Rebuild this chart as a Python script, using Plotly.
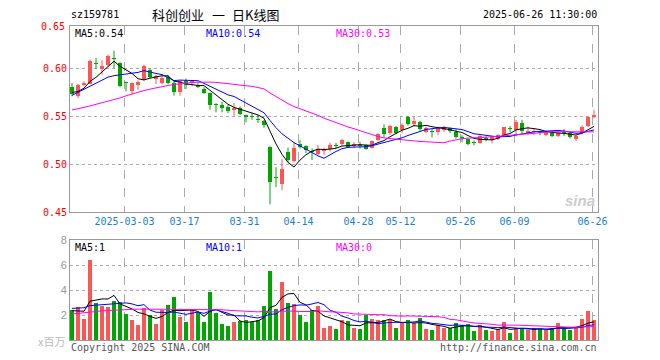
import numpy as np
import pandas as pd
import plotly.graph_objects as go

# ---------------- data ----------------
dates = (
    ["2025-02-%02d" % d for d in [18, 19, 20, 21, 24, 25, 26, 27, 28]]
    + ["2025-03-%02d" % d for d in [3, 4, 5, 6, 7, 10, 11, 12, 13, 14, 17, 18, 19, 20, 21, 24, 25, 26, 27, 28, 31]]
    + ["2025-04-%02d" % d for d in [1, 2, 3, 7, 8, 9, 10, 11, 14, 15, 16, 17, 18, 21, 22, 23, 24, 25, 28, 29, 30]]
    + ["2025-05-%02d" % d for d in [6, 7, 8, 9, 12, 13, 14, 15, 16, 19, 20, 21, 22, 23, 26, 27, 28, 29, 30]]
    + ["2025-06-%02d" % d for d in [3, 4, 5, 6, 9, 10, 11, 12, 13, 16, 17, 18, 19, 20, 23, 24, 25, 26]]
)

opens = [0.5802, 0.5705, 0.5822, 0.5838, 0.6052, 0.5990, 0.6035, 0.6100, 0.6052, 0.5854,
         0.5757, 0.5826, 0.5878, 0.5983, 0.5885, 0.5844, 0.5906, 0.5844, 0.5747, 0.5861,
         0.5840, 0.5826, 0.5785, 0.5736, 0.5625, 0.5616, 0.5589, 0.5558, 0.5582, 0.5503,
         0.5493, 0.5470, 0.5452, 0.5180, 0.4866, 0.4795, 0.5120, 0.5034, 0.5210, 0.5185,
         0.5132, 0.5104, 0.5139, 0.5153, 0.5190, 0.5210, 0.5228, 0.5188, 0.5200, 0.5195,
         0.5170, 0.5255, 0.5380, 0.5322, 0.5384, 0.5350, 0.5486, 0.5417, 0.5440, 0.5338,
         0.5339, 0.5337, 0.5350, 0.5370, 0.5332, 0.5282, 0.5256, 0.5222, 0.5224, 0.5270,
         0.5255, 0.5264, 0.5302, 0.5373, 0.5355, 0.5425, 0.5320, 0.5334, 0.5338, 0.5302,
         0.5337, 0.5292, 0.5330, 0.5326, 0.5257, 0.5319, 0.5396, 0.5493]
highs = [0.5844, 0.5833, 0.5861, 0.6087, 0.6104, 0.6080, 0.6140, 0.6180, 0.6060, 0.5858,
         0.5850, 0.5872, 0.6035, 0.6000, 0.5930, 0.5920, 0.5930, 0.5860, 0.5870, 0.5890,
         0.5875, 0.5850, 0.5800, 0.5745, 0.5634, 0.5650, 0.5616, 0.5634, 0.5600, 0.5514,
         0.5530, 0.5510, 0.5460, 0.5185, 0.4966, 0.5051, 0.5171, 0.5230, 0.5247, 0.5195,
         0.5163, 0.5198, 0.5170, 0.5222, 0.5222, 0.5260, 0.5235, 0.5230, 0.5230, 0.5205,
         0.5244, 0.5320, 0.5413, 0.5410, 0.5395, 0.5424, 0.5500, 0.5493, 0.5450, 0.5390,
         0.5363, 0.5390, 0.5396, 0.5380, 0.5366, 0.5300, 0.5265, 0.5245, 0.5300, 0.5290,
         0.5295, 0.5310, 0.5385, 0.5395, 0.5460, 0.5460, 0.5389, 0.5370, 0.5350, 0.5345,
         0.5345, 0.5335, 0.5365, 0.5330, 0.5300, 0.5400, 0.5490, 0.5563]
lows = [0.5705, 0.5688, 0.5809, 0.5833, 0.5990, 0.5930, 0.6010, 0.6000, 0.5800, 0.5757,
        0.5722, 0.5774, 0.5872, 0.5890, 0.5833, 0.5830, 0.5830, 0.5712, 0.5712, 0.5780,
        0.5810, 0.5790, 0.5730, 0.5565, 0.5538, 0.5538, 0.5530, 0.5503, 0.5510, 0.5435,
        0.5460, 0.5428, 0.5377, 0.4580, 0.4760, 0.4726, 0.5017, 0.5017, 0.5161, 0.5115,
        0.5042, 0.5094, 0.5094, 0.5130, 0.5165, 0.5190, 0.5165, 0.5165, 0.5160, 0.5150,
        0.5160, 0.5240, 0.5278, 0.5300, 0.5310, 0.5322, 0.5400, 0.5390, 0.5340, 0.5320,
        0.5278, 0.5300, 0.5333, 0.5320, 0.5265, 0.5228, 0.5195, 0.5195, 0.5210, 0.5235,
        0.5215, 0.5250, 0.5295, 0.5330, 0.5290, 0.5320, 0.5302, 0.5300, 0.5300, 0.5290,
        0.5280, 0.5280, 0.5290, 0.5265, 0.5240, 0.5310, 0.5385, 0.5476]
closes = [0.5729, 0.5826, 0.5840, 0.6072, 0.6048, 0.6017, 0.6122, 0.6094, 0.5809, 0.5847,
          0.5844, 0.5851, 0.6024, 0.5906, 0.5920, 0.5896, 0.5844, 0.5747, 0.5861, 0.5820,
          0.5861, 0.5799, 0.5742, 0.5613, 0.5619, 0.5582, 0.5555, 0.5582, 0.5520, 0.5497,
          0.5490, 0.5466, 0.5411, 0.4815, 0.4862, 0.4949, 0.5045, 0.5171, 0.5175, 0.5145,
          0.5128, 0.5153, 0.5153, 0.5198, 0.5187, 0.5245, 0.5172, 0.5210, 0.5195, 0.5160,
          0.5235, 0.5315, 0.5313, 0.5398, 0.5322, 0.5408, 0.5418, 0.5453, 0.5363, 0.5373,
          0.5335, 0.5372, 0.5370, 0.5340, 0.5284, 0.5278, 0.5211, 0.5219, 0.5293, 0.5255,
          0.5277, 0.5305, 0.5381, 0.5369, 0.5440, 0.5345, 0.5347, 0.5340, 0.5320, 0.5337,
          0.5292, 0.5326, 0.5320, 0.5278, 0.5292, 0.5389, 0.5486, 0.5514]
volumes = [2.40, 2.67, 1.68, 6.40, 2.96, 2.72, 2.64, 3.12, 3.01, 2.08,
           1.60, 1.20, 2.56, 2.00, 1.28, 2.37, 2.80, 3.44, 1.84, 1.44,
           2.47, 2.22, 1.47, 3.87, 2.20, 1.30, 1.15, 1.47, 1.50, 1.60,
           1.47, 1.60, 2.75, 5.55, 2.50, 4.67, 2.98, 2.90, 2.02, 1.47,
           2.40, 2.75, 0.98, 1.15, 0.85, 1.57, 1.50, 0.93, 0.85, 2.00,
           1.65, 1.57, 1.57, 1.57, 1.00, 1.33, 1.57, 1.33, 1.73, 0.85,
           0.77, 1.17, 0.93, 1.00, 1.33, 1.17, 1.25, 0.69, 1.17, 0.77,
           0.69, 0.85, 1.41, 0.53, 1.00, 0.93, 0.77, 0.93, 0.85, 0.77,
           1.00, 1.33, 1.00, 0.77, 1.00, 1.65, 2.29, 1.57]

# moving-average values at the start of the window (read from the picture,
# they depend on days before the first visible candle)
ma5_head = [0.5745, 0.5755, 0.5790, 0.5860]
ma10_head = [0.5715, 0.5747, 0.5780, 0.5815, 0.5845, 0.5878, 0.5905, 0.5920, 0.5930]
ma30_head = [0.5563, 0.5573, 0.5590, 0.5605, 0.5620, 0.5637, 0.5655, 0.5670, 0.5688, 0.5710,
             0.5730, 0.5750, 0.5765, 0.5780, 0.5795, 0.5807, 0.5818, 0.5828, 0.5837, 0.5843,
             0.5848, 0.5852, 0.5854, 0.5853, 0.5850, 0.5845, 0.5838, 0.5830, 0.5822]
vma5_head = [2.35, 2.35, 2.30, 3.10]
vma10_head = [2.53, 2.56, 2.58, 2.75, 2.78, 2.80, 2.85, 2.90, 2.95]
vma30_head = [2.08, 2.14, 2.20, 2.25, 2.30, 2.33, 2.36, 2.39, 2.42, 2.45,
              2.46, 2.47, 2.47, 2.47, 2.47, 2.47, 2.47, 2.47, 2.47, 2.47,
              2.48, 2.48, 2.48, 2.48, 2.45, 2.42, 2.38, 2.35, 2.33]

tick_dates = ["2025-03-03", "2025-03-17", "2025-03-31", "2025-04-14", "2025-04-28",
              "2025-05-12", "2025-05-26", "2025-06-09", "2025-06-26"]
tick_text = ["2025-03-03", "03-17", "03-31", "04-14", "04-28", "05-12", "05-26", "06-09", "06-26"]
price_ticks = [0.45, 0.50, 0.55, 0.60]
vol_ticks = [2, 4, 6, 8]

title_code = "sz159781"
title_parts = ["科创创业", "一", "日K线图"]
title_time = "2025-06-26 11:30:00"
legend_price = ["MA5:0.54", "MA10:0.54", "MA30:0.53"]
legend_vol = ["MA5:1", "MA10:1", "MA30:0"]

# ---------------- styles ----------------
RED = "#ff5555"
GREEN = "#00a600"
MA_COLORS = ["#000000", "#0000ff", "#ff00ff"]
GRID = "#aaaaaa"
FRAME = "#999999"
MONO = "DejaVu Sans Mono"
CJK = "Noto Sans CJK SC"
W, H = 660, 360
PL, PR = 70, 598          # plot left/right pixels
P_TOP, P_BOT = 26, 212    # price panel
V_TOP, V_BOT = 240, 340   # volume panel


def with_head(series, head, n):
    out = series.rolling(n).mean().to_numpy()
    out[:len(head)] = head
    return out


o = np.array(opens); h = np.array(highs); l = np.array(lows); c = np.array(closes)
v = np.array(volumes)
N = len(dates)
idx = np.arange(N)
up = c >= o

cs = pd.Series(c)
vs = pd.Series(v)
mas = [with_head(cs, ma5_head, 5), with_head(cs, ma10_head, 10), with_head(cs, ma30_head, 30)]
vmas = [with_head(vs, vma5_head, 5), with_head(vs, vma10_head, 10), with_head(vs, vma30_head, 30)]

fig = go.Figure()

# wicks
for mask, col in [(up, RED), (~up, GREEN)]:
    xs, ys = [], []
    for i in idx[mask]:
        xs += [i, i, None]
        ys += [l[i], h[i], None]
    fig.add_trace(go.Scatter(x=xs, y=ys, mode="lines", line=dict(color=col, width=1),
                             hoverinfo="skip", xaxis="x", yaxis="y"))

# bodies
min_h = 0.0011
body_lo = np.minimum(o, c)
body_h = np.abs(c - o)
adj_lo = np.where(body_h < min_h, body_lo - (min_h - body_h) / 2, body_lo)
adj_h = np.maximum(body_h, min_h)
for mask, col in [(up, RED), (~up, GREEN)]:
    fig.add_trace(go.Bar(x=idx[mask], y=adj_h[mask], base=adj_lo[mask], width=0.78,
                         marker=dict(color=col, line=dict(width=0)), xaxis="x", yaxis="y"))

for ma, col in zip(mas, MA_COLORS):
    fig.add_trace(go.Scatter(x=idx, y=ma, mode="lines", line=dict(color=col, width=1),
                             xaxis="x", yaxis="y"))

# volume
for mask, col in [(up, RED), (~up, GREEN)]:
    fig.add_trace(go.Bar(x=idx[mask], y=v[mask], width=0.8,
                         marker=dict(color=col, line=dict(width=0)), xaxis="x2", yaxis="y2"))
for ma, col in zip(vmas, MA_COLORS):
    fig.add_trace(go.Scatter(x=idx, y=ma, mode="lines", line=dict(color=col, width=1),
                             xaxis="x2", yaxis="y2"))

tickpos = [dates.index(d) - 0.25 for d in tick_dates]
xrange_ = [-(72 - PL) / 6, (PR - 72) / 6]

axis_common = dict(showline=True, mirror=True, linecolor=FRAME, linewidth=1, zeroline=False,
                   automargin=False)

fig.update_layout(
    width=W, height=H, autosize=False,
    margin=dict(l=0, r=0, t=0, b=0, pad=0, autoexpand=False),
    paper_bgcolor="white", plot_bgcolor="white", showlegend=False,
    barmode="overlay", bargap=0, hovermode=False,
    xaxis=dict(domain=[PL / W, PR / W], range=xrange_, anchor="y",
               tickmode="array", tickvals=tickpos, ticktext=tick_text,
               showgrid=True, gridcolor=GRID, griddash="dash", gridwidth=1,
               ticks="", tickfont=dict(family=MONO, size=10, color="#1a7fd4"),
               **axis_common),
    yaxis=dict(domain=[(H - P_BOT) / H, (H - P_TOP) / H],
               range=[0.45, 0.45 + (P_BOT - P_TOP) / 960], anchor="x",
               tickmode="array", tickvals=price_ticks,
               ticktext=["%.2f" % t for t in price_ticks],
               showgrid=True, gridcolor=GRID, griddash="dot", gridwidth=1,
               ticks="", tickfont=dict(family=MONO, size=10, color="#ff0000"),
               **axis_common),
    xaxis2=dict(domain=[PL / W, PR / W], range=xrange_, anchor="y2", matches="x",
                tickmode="array", tickvals=tickpos, showticklabels=False,
                showgrid=True, gridcolor=GRID, griddash="dash", gridwidth=1, ticks="",
                **axis_common),
    yaxis2=dict(domain=[(H - V_BOT) / H, (H - V_TOP) / H], range=[0, 8], anchor="x2",
                tickmode="array", tickvals=vol_ticks, ticktext=[str(t) for t in vol_ticks],
                showgrid=True, gridcolor=GRID, griddash="dot", gridwidth=1,
                ticks="", tickfont=dict(family="Liberation Sans", size=11, color="#999999"),
                **axis_common),
)


def px_ann(text, x, y, color="#000", size=10, family=MONO, xanchor="left"):
    fig.add_annotation(text=text, x=x / W, y=1 - y / H, xref="paper", yref="paper",
                       showarrow=False, xanchor=xanchor, yanchor="middle",
                       font=dict(family=family, size=size, color=color))


px_ann(title_code, 69, 15)
for t, x in zip(title_parts, [150, 210, 230]):
    px_ann(t, x, 15, size=13, family=CJK)
px_ann(title_time, 599, 15, xanchor="right")
px_ann("0.65", 67, 27, color="#ff0000", xanchor="right")
for t, x, col in zip(legend_price, [73, 204, 334], MA_COLORS):
    px_ann(t, x, 33, color=col)
for t, x, col in zip(legend_vol, [73, 204, 334], MA_COLORS):
    px_ann(t, x, 247, color=col)
px_ann("x百万", 67, 341, color="#bbbbbb", size=11, family=CJK, xanchor="right")
px_ann("Copyright 2025 SINA.COM", 69, 347, color="#555555")
px_ann("http://finance.sina.com.cn", 599, 347, color="#555555", xanchor="right")
px_ann("<b><i>sina</i></b>", 580, 200, color="#cccccc", size=15, family="Liberation Sans",
       xanchor="center")

fig.write_html("out.html",
               config={"displayModeBar": False, "responsive": False, "staticPlot": True},
               post_script="document.body.style.margin='0';document.body.style.overflow='hidden';")
